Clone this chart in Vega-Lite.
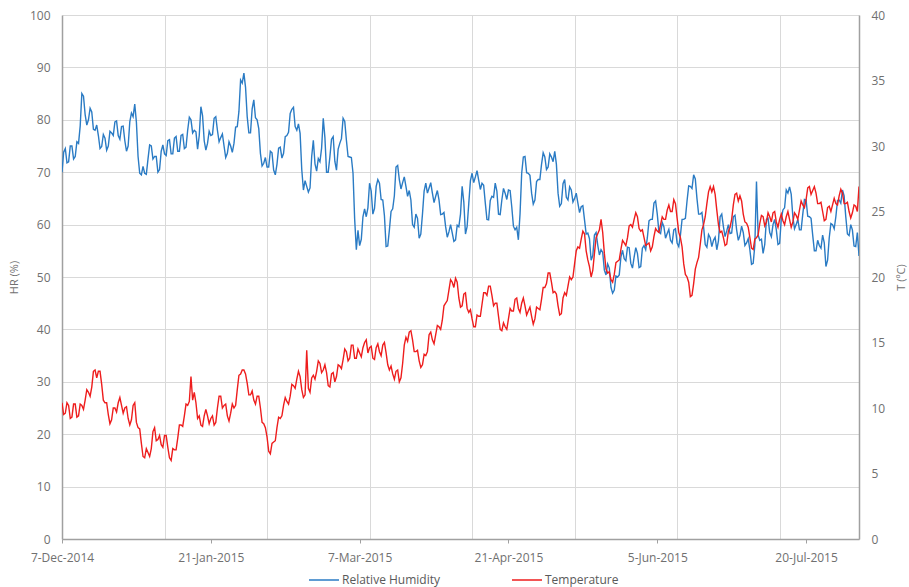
{
  "$schema": "https://vega.github.io/schema/vega-lite/v6.json",
  "width": 797,
  "height": 524,
  "autosize": {"type": "none"},
  "padding": {"left": 62, "top": 15, "right": 50, "bottom": 48},
  "background": "white",
  "config": {
    "font": "Open Sans",
    "view": {"stroke": null},
    "axis": {"labelColor": "#707070", "titleColor": "#707070", "labelFontSize": 12, "titleFontSize": 11, "titleFontWeight": "normal", "gridColor": "#d9d9d9", "gridWidth": 1, "domainColor": "#a0a0a0", "domainWidth": 1.5, "tickColor": "#a0a0a0"}
  },
  "data": {
    "format": {"parse": {"d": "date"}},
    "values": [
      {"d":"2014/12/07","h":70,"t":10.4},{"d":"2014/12/07 12:00","h":73.8,"t":9.5},{"d":"2014/12/08","h":74.5,"t":9.6},{"d":"2014/12/08 12:00","h":71.8,"t":10.4},{"d":"2014/12/09","h":72,"t":10.2},{"d":"2014/12/09 12:00","h":75,"t":9.2},{"d":"2014/12/10","h":75,"t":9.3},{"d":"2014/12/10 12:00","h":72.5,"t":10.3},{"d":"2014/12/11","h":73,"t":10.3},{"d":"2014/12/11 12:00","h":75.8,"t":9.3},
      {"d":"2014/12/12","h":75.5,"t":9.4},{"d":"2014/12/12 12:00","h":78.8,"t":10.3},{"d":"2014/12/13","h":85,"t":10.2},{"d":"2014/12/13 12:00","h":84.5,"t":9.9},{"d":"2014/12/14","h":81,"t":10.6},{"d":"2014/12/14 12:00","h":79,"t":11.4},{"d":"2014/12/15","h":80,"t":11.2},{"d":"2014/12/15 12:00","h":82.2,"t":10.9},{"d":"2014/12/16","h":81.5,"t":11.6},{"d":"2014/12/16 12:00","h":78.2,"t":12.8},
      {"d":"2014/12/17","h":78,"t":12.9},{"d":"2014/12/17 12:00","h":79,"t":12.3},{"d":"2014/12/18","h":77,"t":12.8},{"d":"2014/12/18 12:00","h":74.5,"t":12.8},{"d":"2014/12/19","h":74.9,"t":11.8},{"d":"2014/12/19 12:00","h":77.2,"t":10.6},{"d":"2014/12/20","h":76.5,"t":10.4},{"d":"2014/12/20 12:00","h":74.2,"t":10.4},{"d":"2014/12/21","h":75,"t":9.5},{"d":"2014/12/21 12:00","h":77.8,"t":8.8},
      {"d":"2014/12/22","h":77.5,"t":9.1},{"d":"2014/12/22 12:00","h":77,"t":10},{"d":"2014/12/23","h":79.6,"t":10},{"d":"2014/12/23 12:00","h":79.8,"t":9.7},{"d":"2014/12/24","h":77,"t":10.4},{"d":"2014/12/24 12:00","h":76.3,"t":10.8},{"d":"2014/12/25","h":78.7,"t":10.2},{"d":"2014/12/25 12:00","h":78.8,"t":9.6},{"d":"2014/12/26","h":76,"t":10},{"d":"2014/12/26 12:00","h":74,"t":10.1},
      {"d":"2014/12/27","h":75,"t":9.2},{"d":"2014/12/27 12:00","h":79.6,"t":8.7},{"d":"2014/12/28","h":81.3,"t":9.1},{"d":"2014/12/28 12:00","h":80.6,"t":10.2},{"d":"2014/12/29","h":83,"t":10.4},{"d":"2014/12/29 12:00","h":79.5,"t":8.9},{"d":"2014/12/30","h":73,"t":8.5},{"d":"2014/12/30 12:00","h":69.8,"t":8.4},{"d":"2014/12/31","h":69.5,"t":7.3},{"d":"2014/12/31 12:00","h":71.1,"t":6.3},
      {"d":"2015/01/01","h":69.8,"t":6.2},{"d":"2015/01/01 12:00","h":69.6,"t":6.9},{"d":"2015/01/02","h":72.5,"t":6.6},{"d":"2015/01/02 12:00","h":75.2,"t":6.3},{"d":"2015/01/03","h":75,"t":6.9},{"d":"2015/01/03 12:00","h":72.5,"t":8.2},{"d":"2015/01/04","h":73,"t":8.5},{"d":"2015/01/04 12:00","h":73,"t":7.5},{"d":"2015/01/05","h":70,"t":7.6},{"d":"2015/01/05 12:00","h":70.5,"t":7.9},
      {"d":"2015/01/06","h":74,"t":7.2},{"d":"2015/01/06 12:00","h":75.2,"t":7},{"d":"2015/01/07","h":73.5,"t":7.9},{"d":"2015/01/07 12:00","h":73.2,"t":7.9},{"d":"2015/01/08","h":76,"t":7},{"d":"2015/01/08 12:00","h":76.2,"t":6.2},{"d":"2015/01/09","h":73.5,"t":6},{"d":"2015/01/09 12:00","h":73.5,"t":6.9},{"d":"2015/01/10","h":76.5,"t":6.8},{"d":"2015/01/10 12:00","h":76.8,"t":6.8},
      {"d":"2015/01/11","h":74,"t":7.7},{"d":"2015/01/11 12:00","h":74,"t":8.7},{"d":"2015/01/12","h":77,"t":8.7},{"d":"2015/01/12 12:00","h":77.2,"t":8.6},{"d":"2015/01/13","h":74.5,"t":9.4},{"d":"2015/01/13 12:00","h":74.8,"t":10.3},{"d":"2015/01/14","h":78,"t":10.2},{"d":"2015/01/14 12:00","h":80.5,"t":10.5},{"d":"2015/01/15","h":80,"t":12.4},{"d":"2015/01/15 12:00","h":77.5,"t":10.6},
      {"d":"2015/01/16","h":78,"t":11.2},{"d":"2015/01/16 12:00","h":77.7,"t":10.4},{"d":"2015/01/17","h":74.4,"t":9.2},{"d":"2015/01/17 12:00","h":77,"t":9.4},{"d":"2015/01/18","h":82.5,"t":8.7},{"d":"2015/01/18 12:00","h":80.8,"t":8.6},{"d":"2015/01/19","h":76,"t":9.4},{"d":"2015/01/19 12:00","h":74.2,"t":9.9},{"d":"2015/01/20","h":75.5,"t":9.4},{"d":"2015/01/20 12:00","h":77.8,"t":8.8},
      {"d":"2015/01/21","h":77,"t":9.2},{"d":"2015/01/21 12:00","h":77.2,"t":9.4},{"d":"2015/01/22","h":80.3,"t":8.7},{"d":"2015/01/22 12:00","h":80.6,"t":8.9},{"d":"2015/01/23","h":78,"t":10},{"d":"2015/01/23 12:00","h":75.8,"t":10.9},{"d":"2015/01/24","h":76.6,"t":10.9},{"d":"2015/01/24 12:00","h":77.3,"t":10},{"d":"2015/01/25","h":75,"t":10.2},{"d":"2015/01/25 12:00","h":72.8,"t":10.3},
      {"d":"2015/01/26","h":73.6,"t":9.4},{"d":"2015/01/26 12:00","h":75.8,"t":9},{"d":"2015/01/27","h":75,"t":9.6},{"d":"2015/01/27 12:00","h":73.8,"t":10.3},{"d":"2015/01/28","h":75.5,"t":10},{"d":"2015/01/28 12:00","h":78.6,"t":10.2},{"d":"2015/01/29","h":78.7,"t":11.4},{"d":"2015/01/29 12:00","h":81.6,"t":12.5},{"d":"2015/01/30","h":87.6,"t":12.6},{"d":"2015/01/30 12:00","h":87,"t":12.9},
      {"d":"2015/01/31","h":88.9,"t":12.9},{"d":"2015/01/31 12:00","h":86.2,"t":12.6},{"d":"2015/02/01","h":80.6,"t":11.9},{"d":"2015/02/01 12:00","h":77.5,"t":11},{"d":"2015/02/02","h":77.5,"t":11},{"d":"2015/02/02 12:00","h":82.1,"t":11.3},{"d":"2015/02/03","h":83.8,"t":10.6},{"d":"2015/02/03 12:00","h":80.4,"t":10.3},{"d":"2015/02/04","h":80,"t":10.9},{"d":"2015/02/04 12:00","h":78.3,"t":10.9},
      {"d":"2015/02/05","h":73.6,"t":10},{"d":"2015/02/05 12:00","h":71.2,"t":8.9},{"d":"2015/02/06","h":71.7,"t":8.8},{"d":"2015/02/06 12:00","h":72.8,"t":8.5},{"d":"2015/02/07","h":71,"t":7.8},{"d":"2015/02/07 12:00","h":71,"t":6.7},{"d":"2015/02/08","h":74,"t":6.5},{"d":"2015/02/08 12:00","h":73.7,"t":7.3},{"d":"2015/02/09","h":70.4,"t":7.4},{"d":"2015/02/09 12:00","h":69.5,"t":7.5},
      {"d":"2015/02/10","h":71.5,"t":8.5},{"d":"2015/02/10 12:00","h":74.6,"t":9.3},{"d":"2015/02/11","h":74.8,"t":9.2},{"d":"2015/02/11 12:00","h":72.7,"t":9.4},{"d":"2015/02/12","h":73.6,"t":10.2},{"d":"2015/02/12 12:00","h":76.8,"t":10.8},{"d":"2015/02/13","h":77,"t":10.5},{"d":"2015/02/13 12:00","h":77.6,"t":10.3},{"d":"2015/02/14","h":81.2,"t":10.9},{"d":"2015/02/14 12:00","h":82,"t":11.8},
      {"d":"2015/02/15","h":82.4,"t":11.7},{"d":"2015/02/15 12:00","h":78.7,"t":11.5},{"d":"2015/02/16","h":78,"t":12.2},{"d":"2015/02/16 12:00","h":79.2,"t":12.8},{"d":"2015/02/17","h":77.4,"t":12.4},{"d":"2015/02/17 12:00","h":70.5,"t":11.4},{"d":"2015/02/18","h":66.6,"t":10.8},{"d":"2015/02/18 12:00","h":68.4,"t":11},{"d":"2015/02/19","h":67.3,"t":14.4},{"d":"2015/02/19 12:00","h":66.2,"t":11.5},
      {"d":"2015/02/20","h":67,"t":11.2},{"d":"2015/02/20 12:00","h":73,"t":12.3},{"d":"2015/02/21","h":76.1,"t":12.5},{"d":"2015/02/21 12:00","h":71.6,"t":12.2},{"d":"2015/02/22","h":70.2,"t":12.8},{"d":"2015/02/22 12:00","h":72.6,"t":13.6},{"d":"2015/02/23","h":72,"t":13.4},{"d":"2015/02/23 12:00","h":74.6,"t":12.7},{"d":"2015/02/24","h":80.3,"t":12.9},{"d":"2015/02/24 12:00","h":76.6,"t":13.3},
      {"d":"2015/02/25","h":70,"t":12.7},{"d":"2015/02/25 12:00","h":70,"t":11.7},{"d":"2015/02/26","h":72.9,"t":11.6},{"d":"2015/02/26 12:00","h":76.3,"t":12.6},{"d":"2015/02/27","h":76.8,"t":12.7},{"d":"2015/02/27 12:00","h":72.1,"t":12},{"d":"2015/02/28","h":70.4,"t":12.4},{"d":"2015/02/28 12:00","h":74.4,"t":13.3},
      {"d":"2015/03/01","h":75.5,"t":13.2},{"d":"2015/03/01 12:00","h":76.4,"t":13},{"d":"2015/03/02","h":80.3,"t":13.7},{"d":"2015/03/02 12:00","h":79.7,"t":14.5},{"d":"2015/03/03","h":76.1,"t":14.3},{"d":"2015/03/03 12:00","h":73,"t":13.6},{"d":"2015/03/04","h":72.9,"t":13.8},{"d":"2015/03/04 12:00","h":72.8,"t":14.8},{"d":"2015/03/05","h":69.8,"t":14.8},{"d":"2015/03/05 12:00","h":61,"t":13.8},
      {"d":"2015/03/06","h":55.2,"t":13.8},{"d":"2015/03/06 12:00","h":58.9,"t":14.5},{"d":"2015/03/07","h":56,"t":14.2},{"d":"2015/03/07 12:00","h":57.2,"t":13.9},{"d":"2015/03/08","h":61.5,"t":14.6},{"d":"2015/03/08 12:00","h":63,"t":15},{"d":"2015/03/09","h":61.5,"t":15.2},{"d":"2015/03/09 12:00","h":63.2,"t":14.2},{"d":"2015/03/10","h":67.9,"t":14.6},{"d":"2015/03/10 12:00","h":66.4,"t":14.7},
      {"d":"2015/03/11","h":62,"t":13.8},{"d":"2015/03/11 12:00","h":63.1,"t":13.7},{"d":"2015/03/12","h":67.3,"t":14.6},{"d":"2015/03/12 12:00","h":68.6,"t":14.9},{"d":"2015/03/13","h":67.9,"t":14.3},{"d":"2015/03/13 12:00","h":64.8,"t":14},{"d":"2015/03/14","h":64.7,"t":14.8},{"d":"2015/03/14 12:00","h":61.7,"t":15},{"d":"2015/03/15","h":55.8,"t":14.2},{"d":"2015/03/15 12:00","h":55.9,"t":13.3},
      {"d":"2015/03/16","h":59,"t":12.9},{"d":"2015/03/16 12:00","h":62.5,"t":13.2},{"d":"2015/03/17","h":63,"t":12.6},{"d":"2015/03/17 12:00","h":65.5,"t":12.2},{"d":"2015/03/18","h":71,"t":12.8},{"d":"2015/03/18 12:00","h":71.3,"t":12.9},{"d":"2015/03/19","h":68.6,"t":12},{"d":"2015/03/19 12:00","h":66.8,"t":12.3},{"d":"2015/03/20","h":68,"t":13.4},{"d":"2015/03/20 12:00","h":69.1,"t":14.8},
      {"d":"2015/03/21","h":67.3,"t":15.4},{"d":"2015/03/21 12:00","h":65.4,"t":15.1},{"d":"2015/03/22","h":66.5,"t":15.8},{"d":"2015/03/22 12:00","h":64.7,"t":15.9},{"d":"2015/03/23","h":60,"t":15.2},{"d":"2015/03/23 12:00","h":59.5,"t":14.3},{"d":"2015/03/24","h":62,"t":14.3},{"d":"2015/03/24 12:00","h":61.2,"t":14.4},{"d":"2015/03/25","h":57.4,"t":13.6},{"d":"2015/03/25 12:00","h":58.2,"t":13.1},
      {"d":"2015/03/26","h":62,"t":13.3},{"d":"2015/03/26 12:00","h":66.4,"t":14.1},{"d":"2015/03/27","h":67.9,"t":14},{"d":"2015/03/27 12:00","h":66,"t":14.3},{"d":"2015/03/28","h":67,"t":15.6},{"d":"2015/03/28 12:00","h":68,"t":15.8},{"d":"2015/03/29","h":66,"t":15.2},{"d":"2015/03/29 12:00","h":64.2,"t":14.9},{"d":"2015/03/30","h":65.4,"t":15.6},{"d":"2015/03/30 12:00","h":66.5,"t":16.3},
      {"d":"2015/03/31","h":64.7,"t":16.2},{"d":"2015/03/31 12:00","h":61.9,"t":16},{"d":"2015/04/01","h":62,"t":16.7},{"d":"2015/04/01 12:00","h":62.3,"t":17.8},{"d":"2015/04/02","h":59.6,"t":18},{"d":"2015/04/02 12:00","h":57.6,"t":18.2},{"d":"2015/04/03","h":58.6,"t":19},{"d":"2015/04/03 12:00","h":60,"t":19.8},{"d":"2015/04/04","h":58.4,"t":19.6},{"d":"2015/04/04 12:00","h":56.8,"t":19.2},
      {"d":"2015/04/05","h":57.1,"t":19.9},{"d":"2015/04/05 12:00","h":59.9,"t":19.6},{"d":"2015/04/06","h":59.6,"t":18.4},{"d":"2015/04/06 12:00","h":62,"t":17.7},{"d":"2015/04/07","h":67.3,"t":17.8},{"d":"2015/04/07 12:00","h":64.3,"t":18.7},{"d":"2015/04/08","h":58.2,"t":18.8},{"d":"2015/04/08 12:00","h":59.6,"t":17.6},{"d":"2015/04/09","h":64,"t":17.3},{"d":"2015/04/09 12:00","h":68.4,"t":17.5},
      {"d":"2015/04/10","h":69.8,"t":16.8},{"d":"2015/04/10 12:00","h":68,"t":16.2},{"d":"2015/04/11","h":69.1,"t":16.2},{"d":"2015/04/11 12:00","h":70.3,"t":17.1},{"d":"2015/04/12","h":68.5,"t":17},{"d":"2015/04/12 12:00","h":66.7,"t":17},{"d":"2015/04/13","h":67.9,"t":17.9},{"d":"2015/04/13 12:00","h":67.5,"t":18.8},{"d":"2015/04/14","h":64.1,"t":18.8},{"d":"2015/04/14 12:00","h":61,"t":18.6},
      {"d":"2015/04/15","h":60.9,"t":19.3},{"d":"2015/04/15 12:00","h":64.6,"t":19.3},{"d":"2015/04/16","h":65.4,"t":18.6},{"d":"2015/04/16 12:00","h":65.2,"t":17.8},{"d":"2015/04/17","h":67.9,"t":18},{"d":"2015/04/17 12:00","h":66.4,"t":18},{"d":"2015/04/18","h":62,"t":17},{"d":"2015/04/18 12:00","h":61.9,"t":16},{"d":"2015/04/19","h":64.7,"t":15.9},{"d":"2015/04/19 12:00","h":66.9,"t":16.5},
      {"d":"2015/04/20","h":66,"t":16.2},{"d":"2015/04/20 12:00","h":64.8,"t":16},{"d":"2015/04/21","h":66.6,"t":16.8},{"d":"2015/04/21 12:00","h":66.5,"t":17.6},{"d":"2015/04/22","h":63.4,"t":17.4},{"d":"2015/04/22 12:00","h":59.7,"t":17.4},{"d":"2015/04/23","h":59,"t":18.3},{"d":"2015/04/23 12:00","h":59.5,"t":18.4},{"d":"2015/04/24","h":57.1,"t":17.6},{"d":"2015/04/24 12:00","h":62,"t":17.3},
      {"d":"2015/04/25","h":69.8,"t":18},{"d":"2015/04/25 12:00","h":72.9,"t":18.4},{"d":"2015/04/26","h":73,"t":17.8},{"d":"2015/04/26 12:00","h":69.9,"t":17.1},{"d":"2015/04/27","h":69.8,"t":17.4},{"d":"2015/04/27 12:00","h":69.4,"t":17.7},{"d":"2015/04/28","h":66,"t":17},{"d":"2015/04/28 12:00","h":63.9,"t":16.4},{"d":"2015/04/29","h":64.7,"t":16.8},{"d":"2015/04/29 12:00","h":68.2,"t":17.7},
      {"d":"2015/04/30","h":68.6,"t":17.6},{"d":"2015/04/30 12:00","h":68.6,"t":17.5},{"d":"2015/05/01","h":71.5,"t":18.3},{"d":"2015/05/01 12:00","h":73.7,"t":19.2},{"d":"2015/05/02","h":72.9,"t":19.2},{"d":"2015/05/02 12:00","h":70.5,"t":19.5},{"d":"2015/05/03","h":71,"t":20.3},{"d":"2015/05/03 12:00","h":73.5,"t":20.3},{"d":"2015/05/04","h":72.9,"t":19.6},{"d":"2015/05/04 12:00","h":72,"t":18.8},
      {"d":"2015/05/05","h":74,"t":18.9},{"d":"2015/05/05 12:00","h":71.5,"t":18.7},{"d":"2015/05/06","h":66,"t":17.8},{"d":"2015/05/06 12:00","h":63.5,"t":17.1},{"d":"2015/05/07","h":64,"t":17.2},{"d":"2015/05/07 12:00","h":67.8,"t":18.4},{"d":"2015/05/08","h":68.6,"t":18.8},{"d":"2015/05/08 12:00","h":65.2,"t":18.6},{"d":"2015/05/09","h":64.7,"t":19.3},{"d":"2015/05/09 12:00","h":67.2,"t":20},
      {"d":"2015/05/10","h":66.6,"t":19.8},{"d":"2015/05/10 12:00","h":64.3,"t":20},{"d":"2015/05/11","h":65,"t":21},{"d":"2015/05/11 12:00","h":66,"t":22},{"d":"2015/05/12","h":64.1,"t":22.3},{"d":"2015/05/12 12:00","h":62.3,"t":22.2},{"d":"2015/05/13","h":63.4,"t":22.9},{"d":"2015/05/13 12:00","h":63.6,"t":23.5},{"d":"2015/05/14","h":60.9,"t":23.3},{"d":"2015/05/14 12:00","h":58.2,"t":22},
      {"d":"2015/05/15","h":58.4,"t":21.3},{"d":"2015/05/15 12:00","h":57.3,"t":20.8},{"d":"2015/05/16","h":53.2,"t":20},{"d":"2015/05/16 12:00","h":54.1,"t":20.5},{"d":"2015/05/17","h":58,"t":21.8},{"d":"2015/05/17 12:00","h":58.5,"t":23},{"d":"2015/05/18","h":56.1,"t":23.3},{"d":"2015/05/18 12:00","h":54.2,"t":23.6},{"d":"2015/05/19","h":55.2,"t":24.4},{"d":"2015/05/19 12:00","h":54.7,"t":23.4},
      {"d":"2015/05/20","h":51.3,"t":21.8},{"d":"2015/05/20 12:00","h":50.4,"t":20.6},{"d":"2015/05/21","h":52.5,"t":20.3},{"d":"2015/05/21 12:00","h":51.7,"t":20.4},{"d":"2015/05/22","h":48,"t":19.8},{"d":"2015/05/22 12:00","h":46.9,"t":19.6},{"d":"2015/05/23","h":47.5,"t":20.2},{"d":"2015/05/23 12:00","h":50.2,"t":21.1},{"d":"2015/05/24","h":50,"t":21.2},{"d":"2015/05/24 12:00","h":50.4,"t":21.3},
      {"d":"2015/05/25","h":53.8,"t":22.1},{"d":"2015/05/25 12:00","h":55.1,"t":22.8},{"d":"2015/05/26","h":53.5,"t":22.6},{"d":"2015/05/26 12:00","h":53.1,"t":22.4},{"d":"2015/05/27","h":55.7,"t":23},{"d":"2015/05/27 12:00","h":55.6,"t":23.9},{"d":"2015/05/28","h":52.6,"t":24},{"d":"2015/05/28 12:00","h":51.7,"t":23.8},{"d":"2015/05/29","h":53.8,"t":24.4},{"d":"2015/05/29 12:00","h":55.6,"t":24.9},
      {"d":"2015/05/30","h":54.5,"t":24.6},{"d":"2015/05/30 12:00","h":51.8,"t":23.7},{"d":"2015/05/31","h":52,"t":23.5},{"d":"2015/05/31 12:00","h":55.5,"t":23.6},{"d":"2015/06/01","h":56,"t":23},{"d":"2015/06/01 12:00","h":55.2,"t":22.4},{"d":"2015/06/02","h":57.5,"t":22.5},{"d":"2015/06/02 12:00","h":60.7,"t":22.6},{"d":"2015/06/03","h":61,"t":22},{"d":"2015/06/03 12:00","h":61,"t":22.3},
      {"d":"2015/06/04","h":64.1,"t":23.1},{"d":"2015/06/04 12:00","h":64.5,"t":23.7},{"d":"2015/06/05","h":62,"t":23.5},{"d":"2015/06/05 12:00","h":58.6,"t":23.4},{"d":"2015/06/06","h":58.3,"t":24},{"d":"2015/06/06 12:00","h":60.4,"t":24.6},{"d":"2015/06/07","h":59.6,"t":24.4},{"d":"2015/06/07 12:00","h":57.4,"t":24.4},{"d":"2015/06/08","h":58.3,"t":25.1},{"d":"2015/06/08 12:00","h":59.1,"t":25.5},
      {"d":"2015/06/09","h":57,"t":25},{"d":"2015/06/09 12:00","h":56.5,"t":25},{"d":"2015/06/10","h":59,"t":25.9},{"d":"2015/06/10 12:00","h":59.2,"t":25.6},{"d":"2015/06/11","h":56.5,"t":24.5},{"d":"2015/06/11 12:00","h":55.8,"t":23.4},{"d":"2015/06/12","h":58,"t":23},{"d":"2015/06/12 12:00","h":61,"t":22.3},{"d":"2015/06/13","h":61,"t":21},{"d":"2015/06/13 12:00","h":61.2,"t":20.2},
      {"d":"2015/06/14","h":64.5,"t":20},{"d":"2015/06/14 12:00","h":67.4,"t":19.6},{"d":"2015/06/15","h":67.3,"t":18.5},{"d":"2015/06/15 12:00","h":66.9,"t":18.6},{"d":"2015/06/16","h":69.5,"t":19.5},{"d":"2015/06/16 12:00","h":68.7,"t":20.6},{"d":"2015/06/17","h":65,"t":21.1},{"d":"2015/06/17 12:00","h":62,"t":21.5},{"d":"2015/06/18","h":62,"t":22.5},{"d":"2015/06/18 12:00","h":62.3,"t":23.6},
      {"d":"2015/06/19","h":59.6,"t":24},{"d":"2015/06/19 12:00","h":56.2,"t":24.6},{"d":"2015/06/20","h":55.7,"t":25.6},{"d":"2015/06/20 12:00","h":58.1,"t":26.5},{"d":"2015/06/21","h":57.5,"t":26.9},{"d":"2015/06/21 12:00","h":55.8,"t":26.5},{"d":"2015/06/22","h":57,"t":26.9},{"d":"2015/06/22 12:00","h":57.6,"t":26.3},{"d":"2015/06/23","h":55.2,"t":25.1},{"d":"2015/06/23 12:00","h":56.9,"t":24},
      {"d":"2015/06/24","h":61.5,"t":23.4},{"d":"2015/06/24 12:00","h":62,"t":23.5},{"d":"2015/06/25","h":59.6,"t":23},{"d":"2015/06/25 12:00","h":57.7,"t":22.4},{"d":"2015/06/26","h":58.8,"t":22.5},{"d":"2015/06/26 12:00","h":60,"t":23.5},{"d":"2015/06/27","h":58.3,"t":23.8},{"d":"2015/06/27 12:00","h":58.4,"t":24.4},{"d":"2015/06/28","h":61.5,"t":25.5},{"d":"2015/06/28 12:00","h":61.8,"t":26.3},
      {"d":"2015/06/29","h":59,"t":26.4},{"d":"2015/06/29 12:00","h":57,"t":25.8},{"d":"2015/06/30","h":57.9,"t":26.2},{"d":"2015/06/30 12:00","h":59.7,"t":25.8},{"d":"2015/07/01","h":58.5,"t":24.8},{"d":"2015/07/01 12:00","h":56,"t":24.2},{"d":"2015/07/02","h":56.5,"t":24.1},{"d":"2015/07/02 12:00","h":57.3,"t":23.8},{"d":"2015/07/03","h":55.2,"t":23},{"d":"2015/07/03 12:00","h":52.4,"t":22.2},
      {"d":"2015/07/04","h":52.6,"t":22.1},{"d":"2015/07/04 12:00","h":56,"t":22.9},{"d":"2015/07/05","h":68.2,"t":23},{"d":"2015/07/05 12:00","h":58,"t":23.2},{"d":"2015/07/06","h":57,"t":24.1},{"d":"2015/07/06 12:00","h":57.2,"t":24.7},{"d":"2015/07/07","h":54.5,"t":24.6},{"d":"2015/07/07 12:00","h":56.2,"t":23.9},{"d":"2015/07/08","h":61,"t":24.2},{"d":"2015/07/08 12:00","h":61.2,"t":24.9},
      {"d":"2015/07/09","h":58.5,"t":24.6},{"d":"2015/07/09 12:00","h":57.7,"t":24.2},{"d":"2015/07/10","h":60,"t":24.9},{"d":"2015/07/10 12:00","h":61,"t":25},{"d":"2015/07/11","h":59,"t":24.2},{"d":"2015/07/11 12:00","h":56.2,"t":23.8},{"d":"2015/07/12","h":56.4,"t":24.4},{"d":"2015/07/12 12:00","h":61.1,"t":24.8},{"d":"2015/07/13","h":62.8,"t":24.3},{"d":"2015/07/13 12:00","h":63.2,"t":24},
      {"d":"2015/07/14","h":66.6,"t":24.6},{"d":"2015/07/14 12:00","h":66,"t":25},{"d":"2015/07/15","h":67.2,"t":24.4},{"d":"2015/07/15 12:00","h":65.8,"t":23.8},{"d":"2015/07/16","h":61.5,"t":24.2},{"d":"2015/07/16 12:00","h":59.2,"t":24.9},{"d":"2015/07/17","h":60,"t":24.7},{"d":"2015/07/17 12:00","h":61,"t":24.4},{"d":"2015/07/18","h":59,"t":25.1},{"d":"2015/07/18 12:00","h":59,"t":25.8},
      {"d":"2015/07/19","h":62,"t":25.5},{"d":"2015/07/19 12:00","h":64.8,"t":25.3},{"d":"2015/07/20","h":64.7,"t":25.9},{"d":"2015/07/20 12:00","h":61.6,"t":26.8},{"d":"2015/07/21","h":61.5,"t":26.9},{"d":"2015/07/21 12:00","h":61.2,"t":26.3},{"d":"2015/07/22","h":58,"t":26.6},{"d":"2015/07/22 12:00","h":55,"t":26.9},{"d":"2015/07/23","h":55,"t":26.4},{"d":"2015/07/23 12:00","h":57,"t":25.6},
      {"d":"2015/07/24","h":56,"t":25.6},{"d":"2015/07/24 12:00","h":55.5,"t":25.7},{"d":"2015/07/25","h":58,"t":25},{"d":"2015/07/25 12:00","h":56.5,"t":24.3},{"d":"2015/07/26","h":52,"t":24.4},{"d":"2015/07/26 12:00","h":53.2,"t":25.3},{"d":"2015/07/27","h":57.5,"t":25.4},{"d":"2015/07/27 12:00","h":60.2,"t":25},{"d":"2015/07/28","h":60,"t":25.5},{"d":"2015/07/28 12:00","h":59.2,"t":26},
      {"d":"2015/07/29","h":61.5,"t":25.6},{"d":"2015/07/29 12:00","h":64.6,"t":25.5},{"d":"2015/07/30","h":64.7,"t":26.2},{"d":"2015/07/30 12:00","h":64.1,"t":26.7},{"d":"2015/07/31","h":66.6,"t":26.4},{"d":"2015/07/31 12:00","h":65.5,"t":25.6},{"d":"2015/08/01","h":61.5,"t":25.6},{"d":"2015/08/01 12:00","h":58.2,"t":25.7},{"d":"2015/08/02","h":57.9,"t":25},{"d":"2015/08/02 12:00","h":60,"t":24.5},
      {"d":"2015/08/03","h":59,"t":24.9},{"d":"2015/08/03 12:00","h":55.9,"t":25.5},{"d":"2015/08/04","h":55.8,"t":25.4},{"d":"2015/08/04 12:00","h":58.5,"t":25},{"d":"2015/08/05","h":54,"t":26.9}
    ]
  },
  "layer": [
    {
      "mark": {"type": "line", "strokeWidth": 1.4, "clip": true},
      "encoding": {
        "x": {
          "field": "d", "type": "temporal",
          "scale": {"domain": [{"year": 2014, "month": 12, "date": 7}, {"year": 2015, "month": 8, "date": 5}]},
          "axis": {
            "title": null, "format": "%-d-%b-%Y", "grid": false,
            "values": [{"year": 2014, "month": 12, "date": 7}, {"year": 2015, "month": 1, "date": 21}, {"year": 2015, "month": 3, "date": 7}, {"year": 2015, "month": 4, "date": 21}, {"year": 2015, "month": 6, "date": 5}, {"year": 2015, "month": 7, "date": 20}],
            "tickSize": 4, "labelPadding": 9, "labelFlush": false, "labelOverlap": false
          }
        },
        "y": {
          "field": "h", "type": "quantitative",
          "scale": {"domain": [0, 100], "nice": false},
          "axis": {"title": "HR (%)", "values": [0, 10, 20, 30, 40, 50, 60, 70, 80, 90, 100], "ticks": false, "labelPadding": 12, "titlePadding": 10, "grid": true}
        },
        "color": {
          "datum": "Relative Humidity",
          "scale": {"domain": ["Relative Humidity", "Temperature"], "range": ["#2a7bc4", "#ee1d1d"]},
          "legend": {
            "title": null, "orient": "none", "direction": "horizontal", "legendX": 246, "legendY": 549,
            "symbolType": "stroke", "symbolSize": 900, "symbolStrokeWidth": 1.5,
            "labelFontSize": 12, "labelColor": "#595959", "columnPadding": 68, "labelOffset": 2
          }
        }
      }
    },
    {
      "mark": {"type": "line", "strokeWidth": 1.4, "clip": true},
      "encoding": {
        "x": {
          "field": "d", "type": "temporal",
          "axis": {
            "title": null, "labels": false, "ticks": false, "domain": false, "grid": true,
            "values": [{"year": 2015, "month": 1, "date": 7}, {"year": 2015, "month": 2, "date": 7}, {"year": 2015, "month": 3, "date": 10}, {"year": 2015, "month": 4, "date": 10}, {"year": 2015, "month": 5, "date": 11}, {"year": 2015, "month": 6, "date": 11}, {"year": 2015, "month": 7, "date": 12}]
          }
        },
        "y": {
          "field": "t", "type": "quantitative",
          "scale": {"domain": [0, 40], "nice": false},
          "axis": {"title": "T (ºC)", "orient": "right", "values": [0, 5, 10, 15, 20, 25, 30, 35, 40], "ticks": false, "grid": false, "labelPadding": 12, "titlePadding": 22, "titleAngle": 270}
        },
        "color": {"datum": "Temperature"}
      }
    }
  ],
  "resolve": {"scale": {"y": "independent"}, "axis": {"x": "independent"}}
}
